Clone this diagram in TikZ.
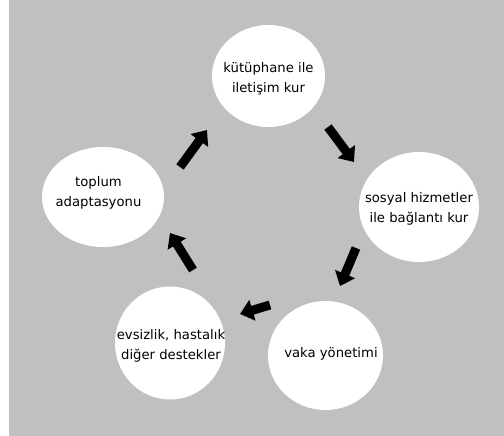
\documentclass[tikz,border=0pt]{standalone}
\usepackage{fontspec}
\setmainfont{DejaVu Sans}
\usetikzlibrary{shapes.geometric,arrows.meta}
\definecolor{bggray}{HTML}{C0C0C0}
\tikzset{
  bubble/.style={ellipse, fill=white, inner sep=0pt},
  bubbletext/.style={align=center, inner sep=0pt,
    font=\fontsize{13.2}{20}\selectfont},
  blockarrow/.style={draw=black, line width=9pt,
    -{Triangle[length=13pt,width=21pt]}}
}
\begin{document}
\begin{tikzpicture}[x=1pt,y=-1pt]
\useasboundingbox (0,0) rectangle (504,436);
\fill[white] (0,0) rectangle (504,436);
\fill[bggray] (9,0) rectangle (504,436);

\node[bubble, minimum width=113pt, minimum height=102pt] (lib) at (268.5,76) {};
\node[bubbletext] (libt) at (268.5,79) {kütüphane ile\\iletişim kur};

\node[bubble, minimum width=120pt, minimum height=110pt] (sos) at (419,207) {};
\node[bubbletext] (sost) at (419,209) {sosyal hizmetler\\ile bağlantı kur};

\node[bubble, minimum width=115pt, minimum height=109pt] (vaka) at (325.5,355.5) {};
\node[bubbletext] (vakat) at (331,354) {vaka yönetimi};

\node[bubble, minimum width=110pt, minimum height=113pt] (evs) at (170,343) {};
\node[bubbletext] (evst) at (171,346) {evsizlik, hastalık\\diğer destekler};

\node[bubble, minimum width=122pt, minimum height=100pt] (top) at (103,197) {};
\node[bubbletext] (topt) at (98.5,193) {toplum\\adaptasyonu};

\coordinate (a1s) at (328,127); \coordinate (a1e) at (354,162);
\coordinate (a2s) at (356,248); \coordinate (a2e) at (340,286);
\coordinate (a3s) at (270,305); \coordinate (a3e) at (240,314);
\coordinate (a4s) at (193,270); \coordinate (a4e) at (170,233);
\coordinate (a5s) at (180,167); \coordinate (a5e) at (207,130);

\draw[blockarrow] (a1s) -- (a1e);
\draw[blockarrow] (a2s) -- (a2e);
\draw[blockarrow] (a3s) -- (a3e);
\draw[blockarrow] (a4s) -- (a4e);
\draw[blockarrow] (a5s) -- (a5e);
\end{tikzpicture}
\end{document}
